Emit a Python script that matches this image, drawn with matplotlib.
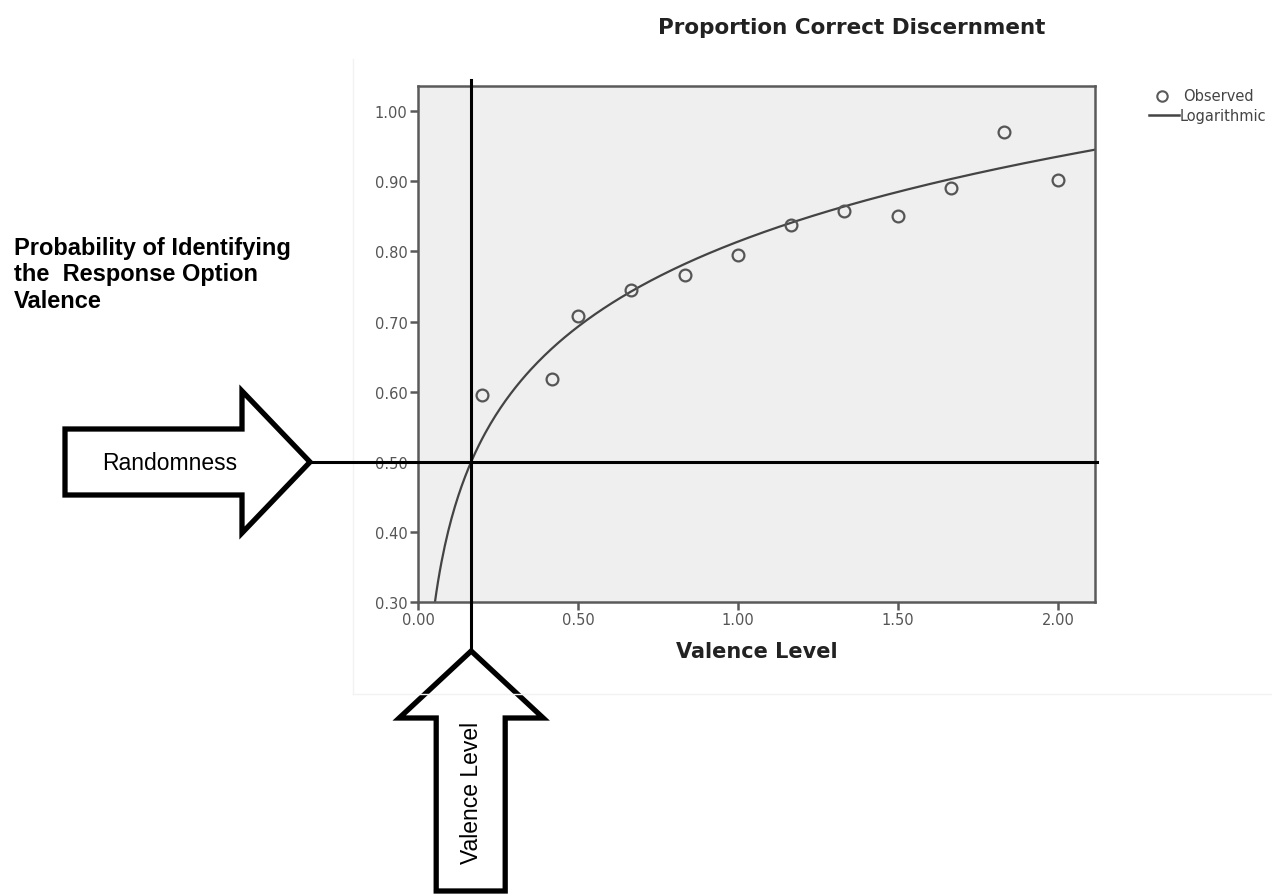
import numpy as np
import matplotlib
matplotlib.use("Agg")
import matplotlib.pyplot as plt
from matplotlib.patches import Polygon

# observed proportions
valence = [0.20, 0.42, 0.50, 0.667, 0.833, 1.00, 1.167, 1.333, 1.50, 1.667, 1.833, 2.00]
proportion = [0.595, 0.618, 0.708, 0.745, 0.766, 0.795, 0.838, 0.857, 0.850, 0.890, 0.971, 0.902]
# logarithmic fit shown in the chart: y = fit_a + fit_b * ln(x)
fit_a = 0.814
fit_b = 0.175
yticks = [0.30, 0.40, 0.50, 0.60, 0.70, 0.80, 0.90, 1.00]
xticks = [0.0, 0.5, 1.0, 1.5, 2.0]
chance = 0.5

plt.rcParams['font.family'] = ['Liberation Sans', 'DejaVu Sans']

W, H = 1272, 895
fig = plt.figure(figsize=(W / 100, H / 100), dpi=100)

# main axes (pixel box 418..1095 x 87..603)
ax = fig.add_axes([418 / W, 1 - 603 / H, (1095 - 418) / W, (603 - 87) / H])
ax.set_facecolor('#efefef')
ax.set_xlim(0, 2.116)
ax.set_ylim(0.30, 1.036)

xs = np.linspace(0.01, 2.116, 400)
ax.plot(xs, fit_a + fit_b * np.log(xs), color='#444444', lw=1.6)
ax.plot(valence, proportion, 'o', mfc='none', mec='#555555', mew=1.6, ms=8.5)

gray = '#5a5a5a'
for s in ax.spines.values():
    s.set_color(gray)
    s.set_linewidth(1.8)
ax.set_xticks(xticks)
ax.set_yticks(yticks)
ax.set_xticklabels([f'{v:.2f}' for v in xticks])
ax.set_yticklabels([f'{v:.2f}' for v in yticks])
ax.tick_params(direction='out', length=5.5, width=1.8, color=gray, labelcolor='#555555',
               labelsize=10.5, pad=2)
for lab in ax.get_xticklabels() + ax.get_yticklabels():
    lab.set_family('DejaVu Sans')
ax.set_xlabel('Valence Level', fontsize=15, fontweight='bold', family='DejaVu Sans',
              color='#222222', labelpad=10)

fig.text(852 / W, 1 - 28 / H, 'Proportion Correct Discernment', ha='center', va='center',
         fontsize=15.5, fontweight='bold', family='DejaVu Sans', color='#222222')

# legend
fig.lines.append(plt.Line2D([1162 / W], [1 - 97 / H], marker='o', mfc='none', mec=gray,
                            mew=1.5, ms=7.5, transform=fig.transFigure))
fig.lines.append(plt.Line2D([1149 / W, 1179 / W], [1 - 116 / H] * 2, color='#444444', lw=1.8,
                            transform=fig.transFigure))
fig.text(1183 / W, 1 - 97 / H, 'Observed', va='center', fontsize=10.5, family='DejaVu Sans',
         color='#444444')
fig.text(1180 / W, 1 - 116 / H, 'Logarithmic', va='center', fontsize=10.5, family='DejaVu Sans',
         color='#444444')

# overlay in pixel coords for annotations
ov = fig.add_axes([0, 0, 1, 1], facecolor='none')
ov.set_xlim(0, W)
ov.set_ylim(H, 0)
ov.axis('off')

# faint frame of the original chart image
ov.plot([353, 353], [60, 695], color='#f2f2f2', lw=1)
ov.plot([353, 1272], [695, 695], color='#f2f2f2', lw=1)

# crossing lines
x_cross = 418 + 320 * np.exp((chance - fit_a) / fit_b)
ov.plot([x_cross, x_cross], [81, 652], color='black', lw=2.2)
ov.plot([310, 1097], [463, 463], color='black', lw=2.2)

# right arrow "Randomness"
ov.add_patch(Polygon([(65, 430), (242, 430), (242, 392), (310, 463), (242, 534),
                      (242, 496), (65, 496)], closed=True, fc='white', ec='black', lw=3.8,
                     joinstyle='miter'))
ov.text(170, 463, 'Randomness', ha='center', va='center', fontsize=16.5)

# up arrow "Valence Level"
tx = x_cross
ov.add_patch(Polygon([(tx, 652), (tx + 72, 719), (tx + 34, 719), (tx + 34, 892),
                      (tx - 35, 892), (tx - 35, 719), (tx - 72, 719)], closed=True,
                     fc='white', ec='black', lw=3.8, joinstyle='miter'))
ov.text(tx, 793, 'Valence Level', ha='center', va='center', rotation=90, fontsize=16.5)

# y description
fig.text(14 / W, 1 - 275 / H, 'Probability of Identifying\nthe  Response Option\nValence',
         ha='left', va='center', fontsize=17, fontweight='bold', linespacing=1.17)

fig.savefig('out.png', dpi=100)
